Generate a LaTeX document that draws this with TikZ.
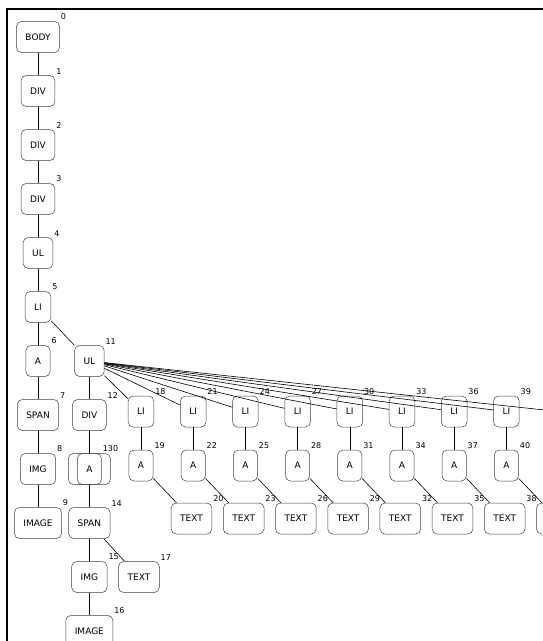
\documentclass[tikz,border=0pt]{standalone}
\usepackage{fontspec}
\setsansfont{DejaVu Sans}
\usetikzlibrary{positioning}

\begin{document}
\begin{tikzpicture}[
    x=1pt, y=-1pt,
    node distance=22.5pt and 24pt,
    tagbox/.style={rectangle, rounded corners=5pt, draw=black!75, line width=0.5pt, minimum width=24pt, minimum height=31pt, inner xsep=9pt, align=center, font=\sffamily\fontsize{9}{10}\selectfont},
    num/.style={font=\sffamily\fontsize{8}{9}\selectfont, inner sep=1pt},
    edge/.style={draw=black, line width=0.6pt}
]
\useasboundingbox (0,0) rectangle (543,641);
\clip (0,0) rectangle (543,641);
\draw[line width=1.3pt] (7,641) -- (7,9) -- (543,9);

% main spine
\node[tagbox, label={[num]north east:0}] (body) at (38,37) {BODY};
\node[tagbox, below=of body, label={[num]north east:1}] (div1) {DIV};
\node[tagbox, below=of div1, label={[num]north east:2}] (div2) {DIV};
\node[tagbox, below=of div2, label={[num]north east:3}] (div3) {DIV};
\node[tagbox, below=of div3, label={[num]north east:4}] (ul4) {UL};
\node[tagbox, below=of ul4, label={[num]north east:5}] (li5) {LI};
\node[tagbox, below=of li5, label={[num]north east:6}] (a6) {A};
\node[tagbox, below=of a6, label={[num]north east:7}] (span7) {SPAN};
\node[tagbox, below=of span7, label={[num]north east:8}] (img8) {IMG};
\node[tagbox, below=of img8, label={[num]north east:9}] (image9) {IMAGE};

% second list
\node[tagbox, right=of a6, label={[num]north east:11}] (ul11) {UL};
\node[tagbox, below=of ul11, label={[num]north east:12}] (div12) {DIV};
\node[tagbox, below=of div12, minimum width=42pt] (a10) {};
\node[tagbox, below=of div12, label={[num]north east:130}] (a13) {A};
\node[tagbox, below=of a13, label={[num]north east:14}] (span14) {SPAN};
\node[tagbox, below=of span14, label={[num]north east:15}] (img15) {IMG};
\node[tagbox, right=11pt of img15, label={[num]north east:17}] (text17) {TEXT};
\node[tagbox, below=of img15, label={[num]north east:16}] (image16) {IMAGE};

\draw[edge] (body) -- (div1);
\draw[edge] (div1) -- (div2);
\draw[edge] (div2) -- (div3);
\draw[edge] (div3) -- (ul4);
\draw[edge] (ul4) -- (li5);
\draw[edge] (li5) -- (a6);
\draw[edge] (li5) -- (ul11);
\draw[edge] (a6) -- (span7);
\draw[edge] (span7) -- (img8);
\draw[edge] (img8) -- (image9);
\draw[edge] (ul11) -- (div12);
\draw[edge] (div12) -- (a10);
\draw[edge] (a13) -- (span14);
\draw[edge] (span14) -- (img15);
\draw[edge] (span14) -- (text17);
\draw[edge] (img15) -- (image16);

% list items
\foreach \i [evaluate=\i as \cx using 141+52.2*\i,
             evaluate=\i as \nli using int(18+3*\i),
             evaluate=\i as \na using int(19+3*\i),
             evaluate=\i as \ntx using int(20+3*\i)] in {0,...,8} {
  \node[tagbox, label={[num]north east:\nli}] (li\i) at (\cx,411.5) {LI};
  \node[tagbox, below=of li\i, label={[num]north east:\na}] (a\i) {A};
  \node[tagbox, label={[num]north east:\ntx}] (text\i) at (\cx+50.5,518.5) {TEXT};
  \draw[edge] (ul11) -- (li\i);
  \draw[edge] (li\i) -- (a\i);
  \draw[edge] (a\i) -- (text\i);
}

\end{tikzpicture}
\end{document}
